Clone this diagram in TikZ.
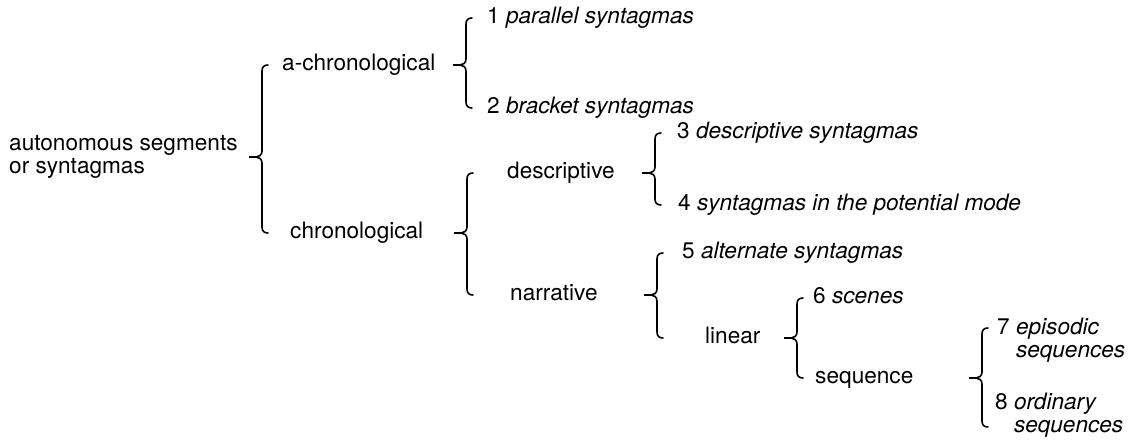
\documentclass[tikz,border=0pt]{standalone}
\usepackage{fontspec}
\setmainfont{TeX Gyre Heros}
\usetikzlibrary{calc}
\tikzstyle{term} = [anchor=west, inner sep=0pt, text height=16pt, text depth=5pt, font=\fontsize{22.6}{24}\selectfont]
\tikzstyle{multi} = [anchor=west, inner sep=0pt, align=left, font=\fontsize{22.6}{23.5}\selectfont]
\tikzset{
  reach/.store in=\bracereach, reach=0,
  brace/.style={line width=1.6pt, line cap=round, to path={
    let \p1=($(\tikztostart)+(0,-\bracereach)$),
        \p2=($(\tikztostart)!(#1)!(\tikztotarget)$),
        \p3=($(\tikztotarget)+(0,\bracereach)$) in
    (\p1) .. controls +(-4,0) and +(0,-4) .. ($(\p1)+(-6,6)$)
    -- ($(\p2)+(-6,-6)$) .. controls +(0,4) and +(3,0) .. ($(\p2)+(-12,0)$)
    -- ($(\p2)+(-19,0)$) -- ($(\p2)+(-12,0)$)
    .. controls +(3,0) and +(0,-4) .. ($(\p2)+(-6,6)$)
    -- ($(\p3)+(-6,-6)$) .. controls +(0,4) and +(-4,0) .. (\p3)}}
}

\begin{document}
\begin{tikzpicture}[x=1pt, y=-1pt]
\useasboundingbox (0,0) rectangle (1132,439);

% Nodes
\node (root) [multi] at (9,157) {autonomous segments\\or syntagmas};
\node (ach) [term] at (282,65) {a-chronological};
\node (chr) [term] at (290,233) {chronological};
\node (s1) [term] at (487,18) {1 \textit{parallel syntagmas}};
\node (s2) [term] at (487,108) {2 \textit{bracket syntagmas}};
\node (desc) [term] at (507,173) {descriptive};
\node (narr) [term] at (510,295) {narrative};
\node (s3) [term] at (677,133) {3 \textit{descriptive syntagmas}};
\node (s4) [term] at (678,205) {4 \textit{syntagmas in the potential mode}};
\node (s5) [term] at (682,253) {5 \textit{alternate syntagmas}};
\node (lin) [term] at (705,338) {linear};
\node (s6) [term] at (813,298) {6 \textit{scenes}};
\node (seq) [term] at (815,378) {sequence};
\node (s7) [multi] at (997,340) {7 \textit{episodic}\\\phantom{7 }\textit{sequences}};
\node (s8) [multi] at (995,415) {8 \textit{ordinary}\\\phantom{8 }\textit{sequences}};

% Braces
\draw [brace=root] (268,0 |- ach) to (268,0 |- chr);
\draw [brace=ach] (472,0 |- s1) to (472,0 |- s2);
\draw [brace=chr] (473,0 |- desc) to (473,0 |- narr);
\draw [brace=desc] (661,0 |- s3) to (661,0 |- s4);
\draw [brace=narr] (663,0 |- s5) to (663,0 |- lin);
\draw [brace=lin] (803,0 |- s6) to (803,0 |- seq);
\draw [brace=seq, reach=12] (988,0 |- s7) to (988,0 |- s8);

\end{tikzpicture}
\end{document}
